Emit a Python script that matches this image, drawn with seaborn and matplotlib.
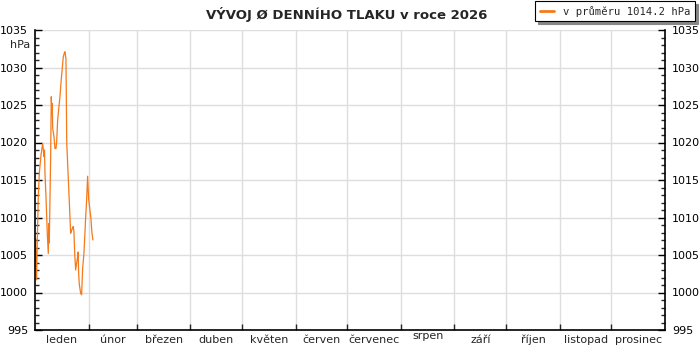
import matplotlib
matplotlib.use("Agg")
import matplotlib.pyplot as plt
import matplotlib.transforms as mtransforms
import seaborn as sns
import pandas as pd
import numpy as np

# ---- data ----
days = [0.0, 0.3, 0.58, 0.9, 1.33, 1.91, 2.49, 3.47, 4.45, 5.21, 5.5, 5.78, 6.36, 7.11,
        7.69, 8.0, 8.27, 9.08, 9.43, 9.83, 10.0, 10.24, 10.99, 11.57, 12.15, 12.55,
        13.13, 13.88, 14.46, 15.04, 15.79, 16.37, 16.95, 17.35, 17.93, 18.4, 19.84,
        20.65, 21.23, 21.80, 22.15, 22.56, 23.0, 23.54, 24.12, 24.70, 25.0, 25.27,
        25.62, 26.43, 27.01, 27.59, 28.34, 28.92, 29.32, 29.90, 30.48, 31.06, 31.81,
        32.39, 32.97, 33.55]
pressure = [1003.5, 1007.2, 1004.3, 1001.7, 1007.0, 1012.8, 1015.9, 1018.3, 1019.9,
            1018.1, 1019.0, 1015.9, 1012.8, 1007.9, 1005.2, 1009.2, 1006.6, 1018.3,
            1026.1, 1023.9, 1025.2, 1021.9, 1020.8, 1019.2, 1019.2, 1020.1, 1023.0,
            1024.8, 1026.1, 1027.9, 1029.9, 1031.4, 1031.9, 1032.1, 1031.2, 1019.9,
            1012.3, 1007.9, 1008.3, 1008.6, 1008.8, 1008.1, 1005.2, 1003.0, 1003.9,
            1004.8, 1005.4, 1002.6, 1001.2, 999.9, 999.7, 1003.2, 1005.2, 1007.9,
            1009.9, 1012.3, 1015.5, 1012.5, 1011.0, 1009.9, 1008.0, 1007.0]
month_names = ["leden", "únor", "březen", "duben", "květen", "červen", "červenec",
               "srpen", "září", "říjen", "listopad", "prosinec"]
month_starts = [0, 31, 59, 90, 120, 151, 181, 212, 243, 273, 304, 334, 365]
y_ticks = [995, 1000, 1005, 1010, 1015, 1020, 1025, 1030, 1035]
title = "VÝVOJ Ø DENNÍHO TLAKU v roce 2026"
legend_label = "v průměru 1014.2 hPa"

df = pd.DataFrame({"day": days, "tlak": pressure})

sns.set_style("white")
plt.rcParams["font.family"] = ["DejaVu Sans"]

fig = plt.figure(figsize=(7, 3.5), dpi=100)
ax = fig.add_axes([35 / 700, 20 / 350, 630 / 700, 300 / 350])

line_color = "#f47a1c"
sns.lineplot(data=df, x="day", y="tlak", ax=ax, color=line_color, linewidth=0.9,
             label=legend_label, sort=False, estimator=None)

ax.set_xlim(0, 365)
ax.set_ylim(995, 1035)
ax.set_xlabel("")
ax.set_ylabel("")

# grid
for yv in y_ticks[1:]:
    ax.axhline(yv, color="#dedede", linewidth=1, zorder=0)
for xv in month_starts[1:-1]:
    ax.axvline(xv, color="#dedede", linewidth=1, zorder=0)

# spines
ax.spines["top"].set_visible(False)
for s in ["left", "right", "bottom"]:
    ax.spines[s].set_visible(True)
    ax.spines[s].set_color("black")
    ax.spines[s].set_linewidth(1.2)

# y ticks
ax.set_yticks(y_ticks)
ax.set_yticks(np.arange(995, 1036, 1), minor=True)
ax.tick_params(axis="y", which="major", direction="in", length=5, width=1,
               labelsize=8, left=True, right=True, labelleft=True, labelright=True,
               pad=5, colors="black")
ax.tick_params(axis="y", which="minor", direction="in", length=3, width=1,
               left=True, right=True)

# x ticks
ax.set_xticks(month_starts[1:-1])
ax.tick_params(axis="x", which="major", direction="in", length=4, width=1,
               bottom=True, labelbottom=False)
ax.tick_params(axis="x", which="minor", bottom=False)

# month labels
trans = mtransforms.blended_transform_factory(ax.transData, ax.transAxes)
for i, name in enumerate(month_names):
    mid = (month_starts[i] + month_starts[i + 1]) / 2
    off = -10 / 300 if name != "srpen" else -6 / 300
    ax.text(mid, off, name, transform=trans, ha="center", va="center", fontsize=8)

# hPa unit
ax.text(-5 / 630, 1033.0, "hPa",
        transform=mtransforms.blended_transform_factory(ax.transAxes, ax.transData),
        ha="right", va="center", fontsize=8)

# title
fig.text(347 / 700, 1 - 15 / 350, title, ha="center", va="center", fontsize=9.5,
         fontweight="bold")

# legend
leg = ax.legend(loc="upper right", bbox_to_anchor=(695 / 700, 1 - 1 / 350),
                bbox_transform=fig.transFigure, frameon=True, fancybox=False,
                shadow={"color": "#888888", "alpha": 1.0},
                prop={"family": "DejaVu Sans Mono", "size": 7.6},
                handlelength=1.4, handletextpad=0.8, borderpad=0.45, borderaxespad=0)
leg.get_frame().set_edgecolor("black")
leg.get_frame().set_linewidth(0.8)
leg.get_frame().set_alpha(1)
for h in leg.get_lines():
    h.set_linewidth(2)

fig.savefig("out.png", dpi=100)
